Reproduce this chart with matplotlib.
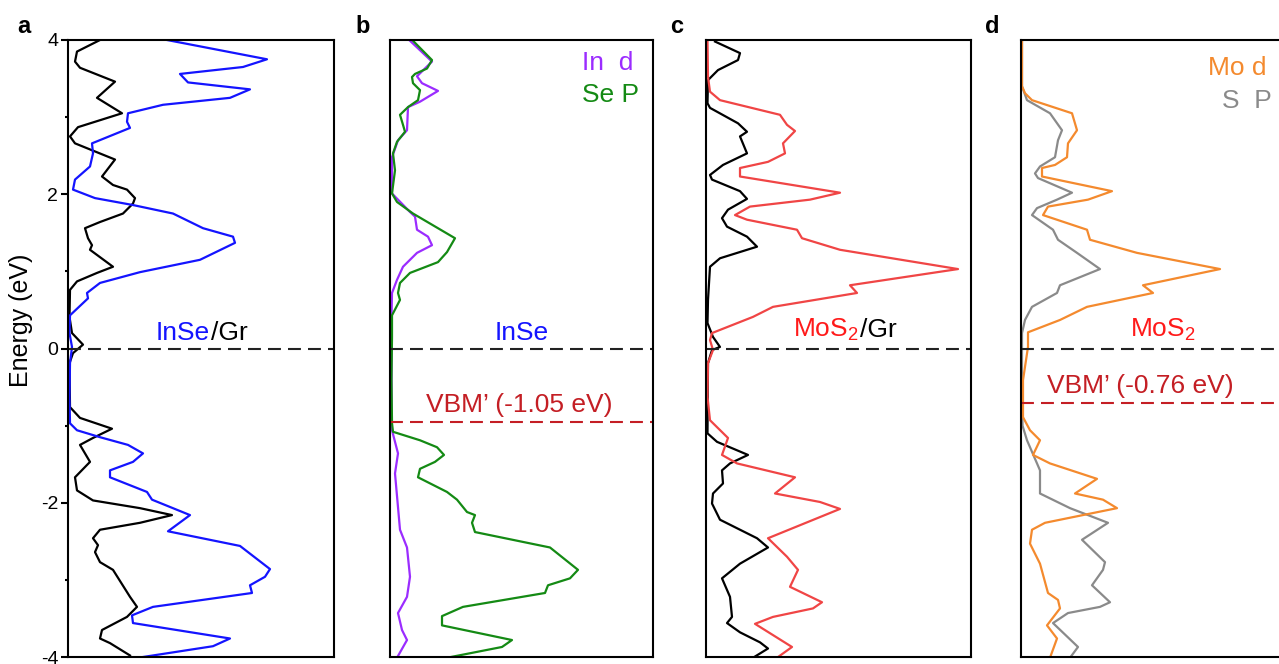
import matplotlib
matplotlib.use('Agg')
import matplotlib.pyplot as plt
from matplotlib.ticker import MultipleLocator

plt.rcParams['font.family'] = ['Liberation Sans', 'DejaVu Sans']
plt.rcParams['mathtext.fontset'] = 'custom'
plt.rcParams['mathtext.rm'] = 'Liberation Sans'
plt.rcParams['mathtext.it'] = 'Liberation Sans:italic'
plt.rcParams['mathtext.bf'] = 'Liberation Sans:bold'
plt.rcParams['axes.unicode_minus'] = False

# ---------------- data (energy in eV, DOS in arbitrary units) ----------------
# panel a : InSe/Gr
a_inse_E = [4.0, 3.75, 3.65, 3.56, 3.45, 3.36, 3.25, 3.16, 3.05, 2.94, 2.86, 2.66, 2.53, 2.36, 2.19,
            2.06, 1.95, 1.86, 1.75, 1.56, 1.45, 1.37, 1.15, 0.99, 0.85, 0.72, 0.65, 0.43, 0.2, 0.02,
            -0.19, -0.63, -0.97, -1.06, -1.15, -1.25, -1.36, -1.47, -1.58, -1.67, -1.86, -1.96, -2.16,
            -2.37, -2.56, -2.86, -2.96, -3.07, -3.17, -3.35, -3.46, -3.56, -3.76, -3.86, -4.0]
a_inse_D = [99, 199, 175, 112, 120, 182, 162, 95, 60, 59, 62, 24, 25, 22, 7,
            5, 27, 65, 105, 135, 165, 167, 132, 72, 32, 19, 20, 2, 1.5, 4,
            2, 1.5, 2, 9, 32, 60, 75, 65, 42, 42, 79, 84, 122,
            100, 172, 202, 197, 182, 184, 85, 64, 65, 162, 145, 75]
a_gr_E = [4.0, 3.85, 3.72, 3.64, 3.46, 3.25, 3.05, 2.87, 2.75, 2.66, 2.45, 2.23, 2.12, 2.06, 1.95,
          1.88, 1.75, 1.64, 1.56, 1.43, 1.34, 1.28, 1.06, 0.98, 0.87, 0.76, 0.41, 0.2, 0.05, -0.06,
          -0.19, -0.76, -0.9, -1.04, -1.16, -1.25, -1.47, -1.67, -1.84, -1.97, -2.07, -2.16, -2.26,
          -2.35, -2.46, -2.55, -2.64, -2.77, -2.87, -3.22, -3.35, -3.48, -3.65, -3.76, -3.82, -3.98]
a_gr_D = [32, 9, 7, 12, 47, 29, 54, 10, 2, 7, 47, 34, 45, 59, 67,
          65, 55, 32, 17, 20, 24, 22, 45, 29, 9, 2, 1.5, 4, 15, 5,
          1.5, 2, 12, 44, 25, 12, 22, 7, 9, 25, 72, 104, 72,
          32, 25, 30, 27, 32, 45, 62, 69, 59, 34, 32, 42, 62]

# panel b : InSe projected
b_sep_E = [3.99, 3.74, 3.63, 3.56, 3.52, 3.44, 3.35, 3.22, 3.13, 3.03, 2.9, 2.81, 2.68, 2.53, 2.31,
           2.01, 1.9, 1.75, 1.43, 1.25, 1.12, 0.98, 0.85, 0.72, 0.63, 0.43, 0.15, -0.4, -0.97, -1.08,
           -1.19, -1.28, -1.38, -1.47, -1.56, -1.67, -1.86, -1.96, -2.12, -2.16, -2.26, -2.38, -2.58,
           -2.87, -2.98, -3.07, -3.17, -3.35, -3.47, -3.59, -3.78, -3.87, -4.01]
b_sep_D = [23, 42, 37, 25, 22, 23, 30, 28, 18, 10, 13, 15, 7, 3, 5,
           2, 7, 23, 65, 57, 48, 20, 10, 8, 10, 2, 2, 1.5, 2, 3,
           30, 47, 54, 45, 30, 28, 57, 67, 77, 85, 82, 85, 160,
           188, 180, 158, 155, 73, 52, 52, 122, 112, 57]
b_ind_E = [3.99, 3.72, 3.53, 3.44, 3.34, 3.2, 3.13, 2.83, 2.7, 2.48, 2.01, 1.77, 1.71, 1.54, 1.45,
           1.34, 1.24, 1.06, 0.89, 0.72, 0.4, -0.3, -0.97, -1.06, -1.36, -1.62, -2.35, -2.58, -2.96,
           -3.22, -3.43, -3.65, -3.78, -4.01]
b_ind_D = [20, 42, 27, 32, 48, 30, 18, 17, 8, 2, 2, 20, 25, 27, 38,
           42, 27, 13, 7, 2, 1.5, 1.5, 1.5, 2, 8, 5, 10, 17, 20,
           17, 8, 12, 17, 7]
b_vbm = -0.95

# panel c : MoS2/Gr
c_mos2_E = [3.99, 3.52, 3.33, 3.22, 3.03, 2.9, 2.82, 2.66, 2.53, 2.42, 2.34, 2.23, 2.02, 1.93, 1.84,
            1.73, 1.67, 1.54, 1.43, 1.28, 1.03, 0.82, 0.72, 0.54, 0.41, 0.2, 0.11, -0.02, -0.19, -0.63,
            -0.93, -1.16, -1.38, -1.49, -1.67, -1.88, -1.99, -2.08, -2.46, -2.7, -2.87, -3.09, -3.29,
            -3.37, -3.48, -3.57, -3.87, -4.01]
c_mos2_D = [1.5, 2, 4, 14, 74, 81, 89, 77, 79, 62, 34, 34, 134, 104, 44,
            29, 41, 91, 96, 134, 252, 144, 151, 67, 47, 6, 4, 7, 2, 1.5,
            4, 22, 16, 31, 89, 69, 114, 134, 62, 81, 92, 84, 116,
            107, 67, 49, 86, 71]
c_gr_E = [3.98, 3.83, 3.74, 3.61, 3.48, 3.18, 3.12, 2.92, 2.81, 2.75, 2.53, 2.38, 2.25, 2.19, 2.04,
          1.94, 1.8, 1.69, 1.58, 1.45, 1.32, 1.17, 1.06, 0.63, 0.33, 0.15, 0.02, -0.02, -0.19, -1.1,
          -1.21, -1.38, -1.49, -1.58, -1.75, -1.88, -2.01, -2.22, -2.46, -2.58, -2.79, -2.98, -3.22,
          -3.48, -3.56, -3.68, -3.81, -3.89, -4.01]
c_gr_D = [9, 34, 32, 12, 2, 1.5, 4, 32, 41, 34, 41, 17, 4, 6, 34,
          41, 22, 16, 21, 41, 51, 14, 4, 2, 1.5, 7, 14, 6, 2, 1.5,
          11, 42, 24, 16, 17, 7, 6, 14, 51, 62, 34, 16, 24,
          26, 21, 34, 54, 62, 47]

# panel d : MoS2 projected
d_mod_E = [4.0, 3.4, 3.31, 3.22, 3.05, 2.83, 2.66, 2.48, 2.38, 2.34, 2.23, 2.04, 1.93, 1.84, 1.73,
           1.54, 1.41, 1.24, 1.03, 0.82, 0.72, 0.54, 0.37, 0.21, 0.02, -0.41, -0.89, -1.06, -1.19,
           -1.38, -1.49, -1.69, -1.88, -1.96, -2.07, -2.26, -2.35, -2.53, -2.79, -3.17, -3.26, -3.37,
           -3.59, -3.76, -4.01]
d_mod_D = [1, 1, 4, 11, 51, 56, 47, 46, 34, 21, 21, 91, 67, 27, 22,
           66, 69, 116, 199, 122, 132, 66, 39, 7, 7, 2, 2, 9, 19,
           12, 29, 76, 54, 82, 96, 24, 11, 9, 19, 27, 37, 39,
           26, 36, 29]
d_sp_E = [4.0, 3.4, 3.22, 3.05, 2.83, 2.7, 2.48, 2.36, 2.27, 2.21, 2.02, 1.93, 1.82, 1.73, 1.54,
          1.41, 1.24, 1.03, 0.82, 0.72, 0.54, 0.37, 0.2, -0.5, -1.0, -1.19, -1.58, -1.88, -2.07,
          -2.26, -2.48, -2.77, -2.87, -3.07, -3.29, -3.35, -3.43, -3.56, -3.87, -4.01]
d_sp_D = [1, 1, 6, 29, 41, 37, 34, 19, 14, 17, 51, 36, 16, 11, 32,
          37, 56, 79, 39, 36, 11, 4, 1, 1, 1.5, 6, 19, 19, 49,
          87, 61, 84, 82, 71, 89, 79, 47, 32, 57, 49]
d_vbm = -0.71

yticks_major = [-4, -2, 0, 2, 4]

# ---------------- styling ----------------
BLUE = '#1414FF'
BLACK = '#000000'
PURPLE = '#9B2CFF'
GREEN = '#148A14'
RED_LINE = '#F04545'
RED_TXT = '#FF1A1A'
ORANGE = '#F48A2E'
GRAY = '#8A8A8A'
DARKRED = '#C41E24'
LW = 1.6
FS = 19

W, H = 1279, 664
fig = plt.figure(figsize=(W / 100, H / 100), dpi=100)
renderer = fig.canvas.get_renderer()

panels = [(68, 266), (390, 263), (706, 265), (1021, 266)]
axes = []
for left, width in panels:
    ax = fig.add_axes([left / W, 7 / H, width / W, 617 / H])
    ax.set_xlim(0, width)
    ax.set_ylim(-4, 4)
    for s in ax.spines.values():
        s.set_linewidth(1.5)
    ax.set_xticks([])
    axes.append(ax)

axa, axb, axc, axd = axes

# panel a ticks
axa.set_yticks(yticks_major)
axa.yaxis.set_minor_locator(MultipleLocator(1))
axa.tick_params(axis='y', which='major', direction='out', length=5, width=1.5, labelsize=14, pad=2)
axa.tick_params(axis='y', which='minor', direction='out', length=2.5, width=1.5)
axa.set_ylabel('Energy (eV)', fontsize=18)
axa.yaxis.set_label_coords(-0.13, 0.545)
for ax in (axb, axc, axd):
    ax.set_yticks([])


def hdash(ax, y, color):
    ln = ax.axhline(y, color=color, lw=1.5)
    ln.set_dashes([6.2, 3.4])


# curves
axa.plot(a_gr_D, a_gr_E, color=BLACK, lw=LW)
axa.plot(a_inse_D, a_inse_E, color=BLUE, lw=LW)
hdash(axa, 0, '#222222')

axb.plot(b_ind_D, b_ind_E, color=PURPLE, lw=LW)
axb.plot(b_sep_D, b_sep_E, color=GREEN, lw=LW)
hdash(axb, 0, '#222222')
hdash(axb, b_vbm, DARKRED)

axc.plot(c_gr_D, c_gr_E, color=BLACK, lw=LW)
axc.plot(c_mos2_D, c_mos2_E, color=RED_LINE, lw=LW)
hdash(axc, 0, '#222222')

axd.plot(d_sp_D, d_sp_E, color=GRAY, lw=LW)
axd.plot(d_mod_D, d_mod_E, color=ORANGE, lw=LW)
hdash(axd, 0, '#222222')
hdash(axd, d_vbm, DARKRED)


def two_tone(ax, x, y, parts):
    cx = x
    for txt, col in parts:
        t = ax.text(cx, y, txt, color=col, fontsize=FS, ha='left', va='baseline',
                    transform=ax.transAxes)
        ext = t.get_window_extent(renderer)
        cx = ax.transAxes.inverted().transform((ext.x1 + 1, 0))[0]


two_tone(axa, 0.331, 0.514, [('InSe', BLUE), ('/Gr', BLACK)])
axb.text(0.502, 0.514, 'InSe', color=BLUE, fontsize=FS, ha='center', va='baseline',
         transform=axb.transAxes)
axb.text(0.492, 0.397, 'VBM\u2019 (-1.05 eV)', color=DARKRED, fontsize=FS, ha='center',
         va='baseline', transform=axb.transAxes)
axb.text(0.730, 0.951, 'In  d', color=PURPLE, fontsize=FS, ha='left', va='baseline',
         transform=axb.transAxes)
axb.text(0.730, 0.900, 'Se P', color=GREEN, fontsize=FS, ha='left', va='baseline',
         transform=axb.transAxes)

two_tone(axc, 0.328, 0.519, [('MoS$_\\mathregular{2}$', RED_TXT), ('/Gr', BLACK)])

axd.text(0.41, 0.519, 'MoS$_\\mathregular{2}$', color=RED_TXT, fontsize=FS, ha='left',
         va='baseline', transform=axd.transAxes)
axd.text(0.098, 0.428, 'VBM\u2019 (-0.76 eV)', color=DARKRED, fontsize=FS, ha='left',
         va='baseline', transform=axd.transAxes)
axd.text(0.703, 0.943, 'Mo d', color=ORANGE, fontsize=FS, ha='left', va='baseline',
         transform=axd.transAxes)
axd.text(0.756, 0.890, 'S  P', color=GRAY, fontsize=FS, ha='left', va='baseline',
         transform=axd.transAxes)

for px, letter in [(17, 'a'), (355, 'b'), (670, 'c'), (985, 'd')]:
    fig.text(px / W, 1 - 33 / H, letter, fontsize=17, fontweight='bold', ha='left',
             va='baseline')

fig.savefig('out.png', dpi=100)
